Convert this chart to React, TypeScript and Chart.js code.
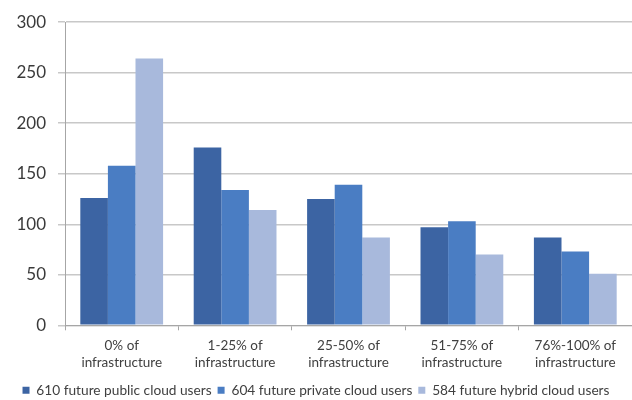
import React, { useEffect, useRef } from "react";
import { Chart, registerables } from "chart.js";

Chart.register(...registerables);

const categories: string[][] = [
  ["0% of", "infrastructure"],
  ["1-25% of", "infrastructure"],
  ["25-50% of", "infrastructure"],
  ["51-75% of", "infrastructure"],
  ["76%-100% of", "infrastructure"],
];

const seriesNames = [
  "610 future public cloud users",
  "604 future private cloud users",
  "584 future hybrid cloud users",
];

const publicValues = [126, 176, 125, 97, 87];
const privateValues = [158, 134, 139, 103, 73];
const hybridValues = [264, 114, 87, 70, 51];

const yTicks = [0, 50, 100, 150, 200, 250, 300];

const colors = ["#3C64A3", "#4A7DC3", "#A8B9DC"];

export default function App() {
  const ref = useRef<HTMLCanvasElement | null>(null);

  useEffect(() => {
    if (!ref.current) return;
    const chart = new Chart(ref.current, {
      type: "bar",
      data: {
        labels: categories,
        datasets: [
          { label: seriesNames[0], data: publicValues, backgroundColor: colors[0] },
          { label: seriesNames[1], data: privateValues, backgroundColor: colors[1] },
          { label: seriesNames[2], data: hybridValues, backgroundColor: colors[2] },
        ],
      },
      options: {
        animation: false,
        responsive: false,
        maintainAspectRatio: false,
        layout: { padding: { top: 19, right: 0, left: 0, bottom: -7 } },
        datasets: {
          bar: { categoryPercentage: 0.73, barPercentage: 1.0, borderWidth: 0 },
        },
        plugins: {
          tooltip: { enabled: false },
          legend: {
            position: "bottom",
            labels: {
              boxWidth: 7,
              boxHeight: 7,
              padding: 6,
              color: "#404040",
              font: { family: "Lato", size: 13.7 },
            },
          },
        },
        scales: {
          x: {
            grid: {
              display: true,
              drawOnChartArea: false,
              drawTicks: true,
              tickLength: 5,
              color: "#A6A6A6",
              offset: true,
            },
            border: { display: true, color: "#A6A6A6", width: 1 },
            ticks: {
              color: "#404040",
              padding: 6,
              maxRotation: 0,
              autoSkip: false,
              font: { family: "Lato", size: 13.5, lineHeight: 1.31 },
            },
            afterFit: (scale: any) => {
              scale.height = 52;
            },
          },
          y: {
            min: 0,
            max: 300,
            afterBuildTicks: (scale: any) => {
              scale.ticks = yTicks.map((v) => ({ value: v }));
            },
            grid: {
              color: "#C8C8C8",
              lineWidth: 1.5,
              tickLength: 7,
            },
            border: { display: true, color: "#A6A6A6", width: 1 },
            ticks: {
              color: "#3A3A3A",
              padding: 12,
              font: { family: "Lato", size: 17 },
            },
            afterFit: (scale: any) => {
              scale.width = 65;
            },
          },
        },
      },
    });
    return () => chart.destroy();
  }, []);

  return (
    <div style={{ position: "fixed", left: 0, top: 0, width: 632, height: 400, background: "#fff", overflow: "hidden" }}>
      <canvas ref={ref} width={632} height={400} style={{ width: 632, height: 400 }} />
    </div>
  );
}
